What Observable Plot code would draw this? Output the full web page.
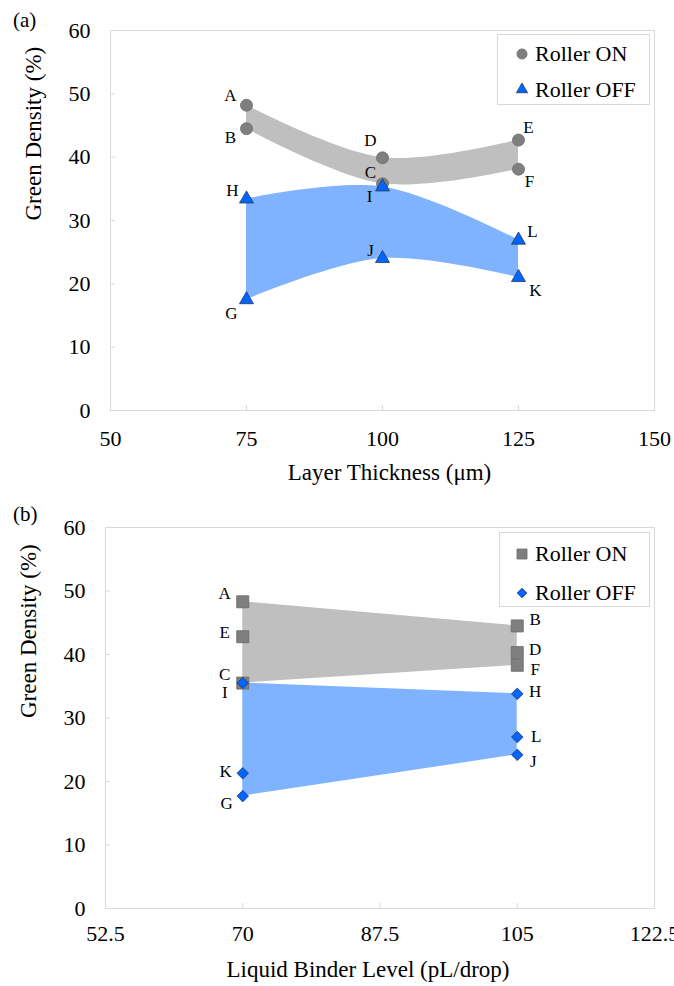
<!DOCTYPE html>
<html><head><meta charset="utf-8">
<script src="https://cdn.jsdelivr.net/npm/d3@7"></script>
<script src="https://cdn.jsdelivr.net/npm/@observablehq/plot@0.6"></script>
<style>
body{margin:0;background:#fff;}
#wrap{position:relative;width:674px;height:986px;font-family:"Liberation Serif","Times New Roman",Times,"DejaVu Serif",serif;}
.panel{position:absolute;left:0;width:674px;}
.panel svg{display:block;}
.panel svg text, .legend text{font-family:"Liberation Serif","Times New Roman",Times,"DejaVu Serif",serif;}
.tag{position:absolute;font-size:21px;line-height:21px;color:#000;}
.legend{position:absolute;}
</style></head><body><div id="wrap"></div>
<script>
const FONT = "Liberation Serif, Times New Roman, Times, DejaVu Serif, serif";
const densityTicks = [0, 10, 20, 30, 40, 50, 60];
const yTitle = "Green Density (%)";
const seriesNames = ["Roller ON", "Roller OFF"];

// Panel (a): Layer thickness
const layerTicks = [50, 75, 100, 125, 150];
const layerOnX = [75, 75, 100, 100, 125, 125];
const layerOnY = [48.2, 44.5, 39.9, 35.8, 42.7, 38.1];
const layerOnLabels = ["A", "B", "D", "C", "E", "F"];
const layerOffX = [75, 75, 100, 100, 125, 125];
const layerOffY = [33.4, 17.5, 35.3, 24.0, 26.9, 21.0];
const layerOffLabels = ["H", "G", "I", "J", "L", "K"];

// Panel (b): Liquid binder level
const binderTicks = [52.5, 70, 87.5, 105, 122.5];
const binderOnX = [70, 70, 70, 105, 105, 105];
const binderOnY = [48.3, 42.8, 35.5, 44.5, 40.3, 38.3];
const binderOnLabels = ["A", "E", "C", "B", "D", "F"];
const binderOffX = [70, 70, 70, 105, 105, 105];
const binderOffY = [35.5, 21.3, 17.7, 33.8, 27.0, 24.2];
const binderOffLabels = ["I", "K", "G", "H", "L", "J"];

// label placement (pixel offsets from the point)
const labelPlaceA = {A:[-16,-10],B:[-16,9],D:[-12,-17],C:[-12,-11],E:[10,-13],F:[11,12],
  H:[-14,-8],I:[-13,10],G:[-15,14],J:[-12,-8],L:[14,-9],K:[17,13]};
const labelPlaceB = {A:[-18,-8],E:[-18,-4],C:[-18,-9],I:[-18,9],K:[-17,-2],G:[-16,7],
  B:[18,-6],D:[18,-3],F:[18,4],H:[18,-2],L:[19,-1],J:[16,7]};

function pts(xs, ys, labels) { return xs.map((x, i) => ({x, y: ys[i], label: labels[i]})); }
function band(points) {
  return d3.rollups(points, v => ({lo: d3.min(v, d => d.y), hi: d3.max(v, d => d.y)}), d => d.x)
    .map(([x, o]) => ({x, ...o})).sort((a, b) => a.x - b.x);
}

const GRAY_BAND = "#bfbfbf", BLUE_BAND = "#80b3ff";
const GRAY_PT = "#7f7f7f", BLUE_PT = "#0066ff";

function panel(cfg) {
  const on = pts(cfg.onX, cfg.onY, cfg.onLabels);
  const off = pts(cfg.offX, cfg.offY, cfg.offLabels);
  const all = on.concat(off);
  return Plot.plot({
    width: 674, height: cfg.height,
    marginLeft: cfg.ml, marginRight: cfg.mr, marginTop: cfg.mt, marginBottom: cfg.mb,
    style: {fontFamily: FONT, fontSize: "22px", background: "transparent", color: "#000", overflow: "visible"},
    x: {domain: [cfg.xTicks[0], cfg.xTicks[cfg.xTicks.length - 1]]},
    y: {domain: [0, 60]},
    marks: [
      Plot.areaY(band(on), {x: "x", y1: "lo", y2: "hi", fill: GRAY_BAND, curve: cfg.curve}),
      Plot.areaY(band(off), {x: "x", y1: "lo", y2: "hi", fill: BLUE_BAND, curve: cfg.curve}),
      Plot.frame({stroke: "#d9d9d9"}),
      Plot.axisX({ticks: cfg.xTicks, tickFormat: d => String(d), tickSize: -5, tickPadding: cfg.xPad,
        stroke: "#d9d9d9", fill: "#000", label: null, fontSize: 22}),
      Plot.axisY({ticks: densityTicks, tickFormat: d => String(d), tickSize: -5, tickPadding: 25,
        stroke: "#d9d9d9", fill: "#000", label: null, fontSize: 22}),
      Plot.dot(on, {x: "x", y: "y", symbol: cfg.onSymbol, r: cfg.onR, fill: GRAY_PT, stroke: "#6a6a6a", strokeWidth: 0.8}),
      Plot.dot(off, {x: "x", y: "y", symbol: cfg.offSymbol, r: cfg.offR, fill: BLUE_PT, stroke: "#2b3a55", strokeWidth: 0.8}),
      ...all.map(d => Plot.text([d], {x: "x", y: "y", text: "label", dx: cfg.place[d.label][0], dy: cfg.place[d.label][1],
        fontSize: 17, fill: "#000", textAnchor: "middle", lineAnchor: "middle"})),
      Plot.text([cfg.xTitle], {frameAnchor: "bottom", dy: cfg.xTitleDy, dx: cfg.xTitleDx, fontSize: 23,
        lineAnchor: "middle", fill: "#000"}),
      Plot.text([yTitle], {frameAnchor: "left", rotate: -90, dx: -77, fontSize: 23, lineAnchor: "middle", fill: "#000"})
    ]
  });
}

function legend(box, symbols, sizes, fills, strokes) {
  const svg = d3.create("svg").attr("class", "legend").attr("width", box.w).attr("height", box.h)
    .style("position", "absolute").style("left", box.x + "px").style("top", box.y + "px");
  svg.append("rect").attr("x", 0.5).attr("y", 0.5).attr("width", box.w - 1).attr("height", box.h - 1)
    .attr("fill", "#fff").attr("stroke", "#d9d9d9");
  seriesNames.forEach((name, i) => {
    const cy = box.rows[i];
    svg.append("path").attr("d", d3.symbol(symbols[i], sizes[i])())
      .attr("transform", `translate(${box.mx},${cy})`).attr("fill", fills[i]).attr("stroke", strokes[i]).attr("stroke-width", 0.8);
    svg.append("text").attr("x", box.tx).attr("y", cy + 7).attr("font-size", 22)
      .attr("fill", "#000").text(name);
  });
  return svg.node();
}

const wrap = document.getElementById("wrap");

const pa = document.createElement("div"); pa.className = "panel"; pa.style.top = "0px";
pa.appendChild(panel({
  height: 493, ml: 110, mr: 20, mt: 30, mb: 83, xPad: 25,
  xTicks: layerTicks, onX: layerOnX, onY: layerOnY, onLabels: layerOnLabels,
  offX: layerOffX, offY: layerOffY, offLabels: layerOffLabels,
  onSymbol: "circle", offSymbol: "triangle", onR: 6, offR: 5.2, curve: "catmull-rom",
  place: labelPlaceA, xTitle: "Layer Thickness (\u03bcm)", xTitleDy: 62, xTitleDx: 7
}));
wrap.appendChild(pa);

const pb = document.createElement("div"); pb.className = "panel"; pb.style.top = "493px";
pb.appendChild(panel({
  height: 493, ml: 105, mr: 20, mt: 34, mb: 78, xPad: 22,
  xTicks: binderTicks, onX: binderOnX, onY: binderOnY, onLabels: binderOnLabels,
  offX: binderOffX, offY: binderOffY, offLabels: binderOffLabels,
  onSymbol: "square", offSymbol: "diamond2", onR: 6.8, offR: 5.2, curve: "linear",
  place: labelPlaceB, xTitle: "Liquid Binder Level (pL/drop)", xTitleDy: 61, xTitleDx: -12
}));
wrap.appendChild(pb);

wrap.appendChild(legend({x: 497, y: 34, w: 153, h: 71, mx: 25, tx: 38, rows: [20, 55.5]},
  [d3.symbolCircle, d3.symbolTriangle], [80, 55], [GRAY_PT, BLUE_PT], ["#6a6a6a", "#2b3a55"]));
wrap.appendChild(legend({x: 499, y: 532, w: 151, h: 75, mx: 23, tx: 36, rows: [22, 61]},
  [d3.symbolSquare, d3.symbolDiamond2], [100, 60], [GRAY_PT, BLUE_PT], ["#6a6a6a", "#2b3a55"]));

const ta = document.createElement("div"); ta.className = "tag"; ta.style.left = "13px"; ta.style.top = "10px"; ta.textContent = "(a)";
const tb = document.createElement("div"); tb.className = "tag"; tb.style.left = "13px"; tb.style.top = "504px"; tb.textContent = "(b)";
wrap.appendChild(ta); wrap.appendChild(tb);
</script></body></html>
